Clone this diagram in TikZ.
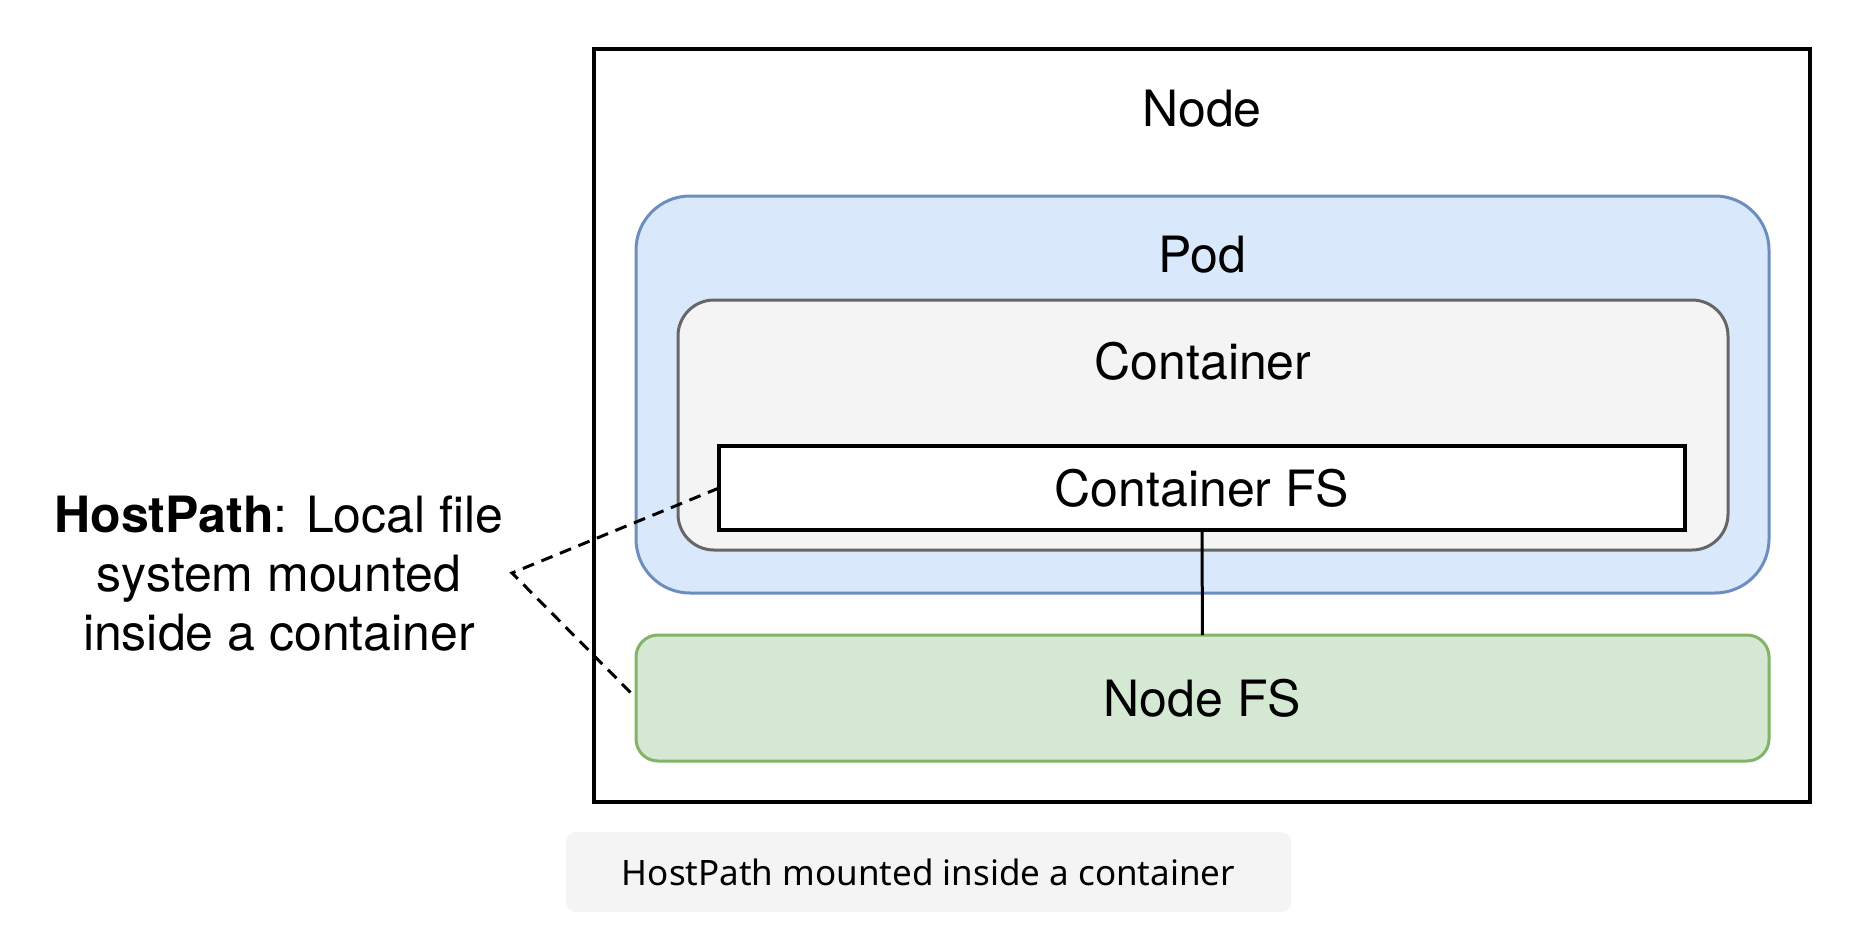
\documentclass[tikz,border=0pt]{standalone}
\usepackage{fontspec}
\setmainfont{TeX Gyre Heros}
\newfontfamily\capfont{Noto Sans}
\usepackage{xcolor}
\usetikzlibrary{positioning}
\definecolor{podfill}{HTML}{DAE8FC}
\definecolor{podline}{HTML}{6C8EBF}
\definecolor{ctrfill}{HTML}{F4F4F4}
\definecolor{ctrline}{HTML}{666666}
\definecolor{nfsfill}{HTML}{D5E8D4}
\definecolor{nfsline}{HTML}{82B366}
\definecolor{capfill}{HTML}{F4F4F4}
\tikzset{
        base/.style={draw, inner sep=0pt, outer sep=0pt},
        title/.style={font=\fontsize{50}{59}\selectfont},
        hostbox/.style={base, line width=3.5pt, minimum width=1216, minimum height=753},
        podbox/.style={base, draw=podline, fill=podfill, line width=3pt,
                       rounded corners=54pt, minimum width=1133, minimum height=397},
        ctrbox/.style={base, draw=ctrline, fill=ctrfill, line width=3pt,
                       rounded corners=36pt, minimum width=1050, minimum height=250},
        fsbox/.style={base, fill=white, line width=3.5pt, title,
                      minimum width=966, minimum height=84},
        nfsbox/.style={base, draw=nfsline, fill=nfsfill, line width=3pt, title,
                       rounded corners=22pt, minimum width=1133, minimum height=126},
        capbox/.style={fill=capfill, rounded corners=10pt, minimum width=725,
                       minimum height=80, font=\capfont\fontsize{35}{42}\selectfont},
        myline/.style={line width=3pt},
        mydash/.style={line width=3pt, dash pattern=on 12pt off 8pt},
 }
\begin{document}
\begin{tikzpicture}[x=1pt, y=-1pt]
    \useasboundingbox (0,0) rectangle (1860,938);

    \node[hostbox] (host) at (1202,425.5) {};
    \node[title] (hostttl) at (1202,109) {Node};
    \node[podbox] (pod) at (1202.5,394.5) {};
    \node[title] (podttl) at (1202,255) {Pod};
    \node[ctrbox] (ctr) at (1203,425) {};
    \node[title] (ctrttl) at (1203,361) {Container};
    \node[fsbox] (cfs) at (1202,488) {Container FS};
    \node[nfsbox] (nfs) at (1202.5,698) {Node FS};

    \node[title, align=center] (note) at (279,574)
         {\textbf{HostPath}: Local file\\system mounted\\inside a container};
    \coordinate (tip) at (512,573);

    \node[capbox] (cap) at (928.5,872) {HostPath mounted inside a container};

    \draw[myline] (cfs) edge (nfs);
    \draw[mydash] (cfs.west) -- (tip) -- (nfs.west);
\end{tikzpicture}
\end{document}
